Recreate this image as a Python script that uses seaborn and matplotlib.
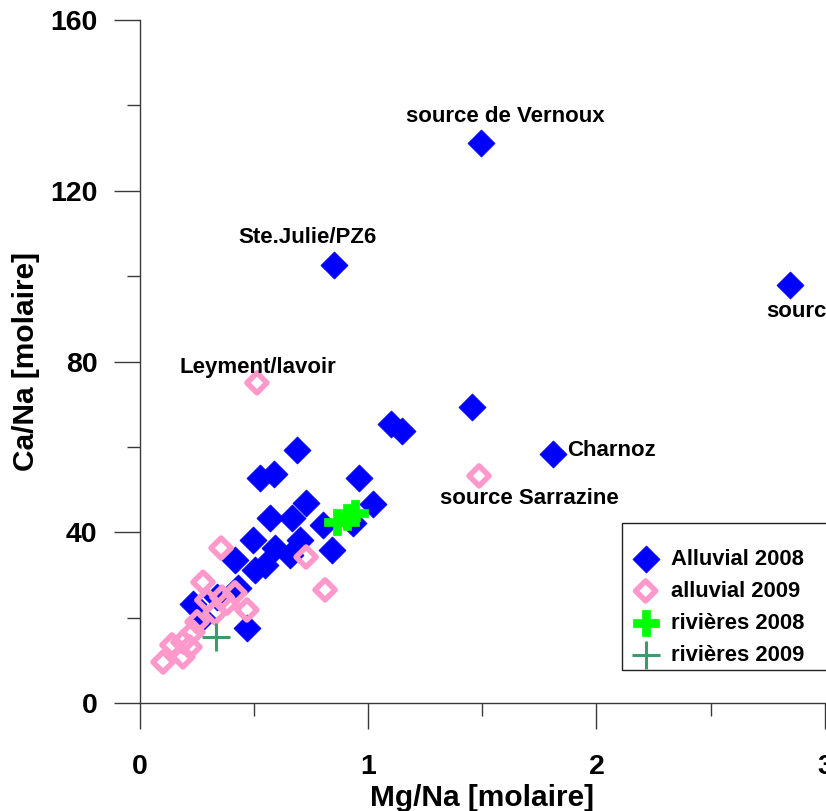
import matplotlib
matplotlib.use("Agg")
import matplotlib.pyplot as plt
import seaborn as sns
import pandas as pd

# Mg/Na and Ca/Na molar ratios per sampling campaign
alluvial_2008_mg = [1.494, 0.851, 2.847, 1.455, 1.101, 1.149, 1.809, 0.689, 0.961, 0.527,
                    0.589, 0.729, 1.022, 0.934, 0.842, 0.571, 0.667, 0.497, 0.593, 0.659,
                    0.702, 0.418, 0.505, 0.549, 0.803, 0.431, 0.234, 0.339, 0.470, 0.274]
alluvial_2008_ca = [131.2, 102.6, 97.9, 69.3, 65.4, 63.7, 58.3, 59.3, 52.7, 52.7,
                    53.6, 46.8, 46.6, 42.1, 35.8, 43.3, 43.3, 38.2, 36.3, 34.7,
                    38.2, 33.5, 31.2, 32.3, 41.7, 26.9, 23.2, 24.8, 17.6, 19.9]

alluvial_2009_mg = [0.514, 1.486, 0.357, 0.729, 0.812, 0.278, 0.418, 0.470, 0.295, 0.361,
                    0.330, 0.252, 0.234, 0.190, 0.142, 0.103, 0.190, 0.221, 0.383]
alluvial_2009_ca = [75.0, 53.2, 36.3, 34.2, 26.5, 28.3, 25.8, 21.8, 24.1, 24.8,
                    21.1, 19.0, 16.6, 14.3, 13.6, 9.6, 10.8, 13.1, 23.4]

rivieres_2008_mg = [0.864, 0.908, 0.943]
rivieres_2008_ca = [42.4, 43.6, 44.5]

rivieres_2009_mg = [0.335]
rivieres_2009_ca = [15.5]

series_names = ["Alluvial 2008", "alluvial 2009", "rivières 2008", "rivières 2009"]

x_ticks = [0, 1, 2, 3]
y_ticks = [0, 40, 80, 120, 160]

# (text, series, index of the labelled sample, offset in pixels, alignment)
point_labels = [
    ("source de Vernoux", "a08", 0, (24, 26), "center"),
    ("Ste.Julie/PZ6", "a08", 1, (-96, 28), "left"),
    ("source", "a08", 2, (-24, -26), "left"),
    ("Charnoz", "a08", 6, (14, 4), "left"),
    ("Leyment/lavoir", "a09", 0, (-77, 15), "left"),
    ("source Sarrazine", "a09", 1, (-39, -23), "left"),
]

sns.set_style("ticks")
plt.rcParams["font.family"] = ["Liberation Sans", "DejaVu Sans"]
plt.rcParams["text.color"] = "black"
plt.rcParams["axes.labelcolor"] = "black"
plt.rcParams["axes.edgecolor"] = "#3a3a3a"
plt.rcParams["xtick.color"] = "#3a3a3a"
plt.rcParams["ytick.color"] = "#3a3a3a"
plt.rcParams["xtick.labelcolor"] = "black"
plt.rcParams["ytick.labelcolor"] = "black"

fig = plt.figure(figsize=(8.26, 8.11), dpi=100)
W, H = 826, 811
ax = fig.add_axes([139.5 / W, 1 - 703 / H, (825 - 139.5) / W, (703 - 20) / H])

df08 = pd.DataFrame({"mg": alluvial_2008_mg, "ca": alluvial_2008_ca})
df09 = pd.DataFrame({"mg": alluvial_2009_mg, "ca": alluvial_2009_ca})
dr08 = pd.DataFrame({"mg": rivieres_2008_mg, "ca": rivieres_2008_ca})
dr09 = pd.DataFrame({"mg": rivieres_2009_mg, "ca": rivieres_2009_ca})

blue = "#0000FF"
pink = "#FF99CC"
lime = "#00FF00"
sea = "#3C9A6C"

sns.scatterplot(data=df08, x="mg", y="ca", ax=ax, marker="D", s=190,
                color=blue, edgecolor=blue, linewidth=0.5,
                label=series_names[0], zorder=3)
sns.scatterplot(data=df09, x="mg", y="ca", ax=ax, marker="D", s=104,
                color=pink, facecolor="none", edgecolor=pink, linewidth=4,
                label=series_names[1], zorder=4)
sns.scatterplot(data=dr08, x="mg", y="ca", ax=ax, marker="P", s=330,
                color=lime, edgecolor=lime, linewidth=0.5,
                label=series_names[2], zorder=5)
sns.scatterplot(data=dr09, x="mg", y="ca", ax=ax, marker="+", s=400,
                color=sea, linewidth=2.2,
                label=series_names[3], zorder=6)

ax.set_xlim(0, 3)
ax.set_ylim(0, 160)
ax.set_xticks(x_ticks)
ax.set_yticks(y_ticks)
ax.set_xticks([0.5, 1.5, 2.5], minor=True)
ax.set_yticks([20, 60, 100, 140], minor=True)
ax.set_xticklabels([str(t) for t in x_ticks], fontsize=20.5, fontweight="bold")
ax.set_yticklabels([str(t) for t in y_ticks], fontsize=20.5, fontweight="bold")
ax.tick_params(axis="both", which="major", direction="out", length=18.7, width=1)
ax.tick_params(axis="both", which="minor", direction="out", length=9.4, width=1)
ax.tick_params(axis="y", which="major", pad=11.5)
ax.tick_params(axis="x", which="major", pad=18)
for side in ("top", "right"):
    ax.spines[side].set_visible(False)
for side in ("left", "bottom"):
    ax.spines[side].set_linewidth(1)

label_font = dict(family=["Liberation Sans Narrow", "Liberation Sans"],
                  fontsize=21.5, fontweight="bold", color="black")
ax.set_xlabel("Mg/Na [molaire]", va="center", **label_font)
ax.set_ylabel("Ca/Na [molaire]", va="center", **label_font)
ax.xaxis.set_label_coords(0.5, (703 - 798) / 683)
ax.yaxis.set_label_coords((26 - 139.5) / 685.5, 0.5)

sources = {"a08": (alluvial_2008_mg, alluvial_2008_ca),
           "a09": (alluvial_2009_mg, alluvial_2009_ca)}
for text, key, i, (dx, dy), ha in point_labels:
    xs, ys = sources[key]
    ax.annotate(text, xy=(xs[i], ys[i]), xytext=(dx, dy), textcoords="offset pixels",
                ha=ha, va="center", fontsize=16, fontweight="bold", color="black",
                annotation_clip=False, zorder=7)

leg = ax.legend(loc="lower left", bbox_to_anchor=(622 / W, 1 - 670 / H, 0.3, 0.2),
                bbox_transform=fig.transFigure, mode="expand", borderaxespad=0,
                frameon=True, fancybox=False, framealpha=1, edgecolor="#222222",
                prop=dict(family="Liberation Sans", weight="bold", size=15.8),
                handlelength=1.75, handletextpad=0.3, borderpad=0.2, labelspacing=0.5,
                title=" ", title_fontsize=7)
leg.get_frame().set_linewidth(1)
for t in leg.get_texts():
    t.set_color("black")

fig.savefig("out.png", dpi=100)
